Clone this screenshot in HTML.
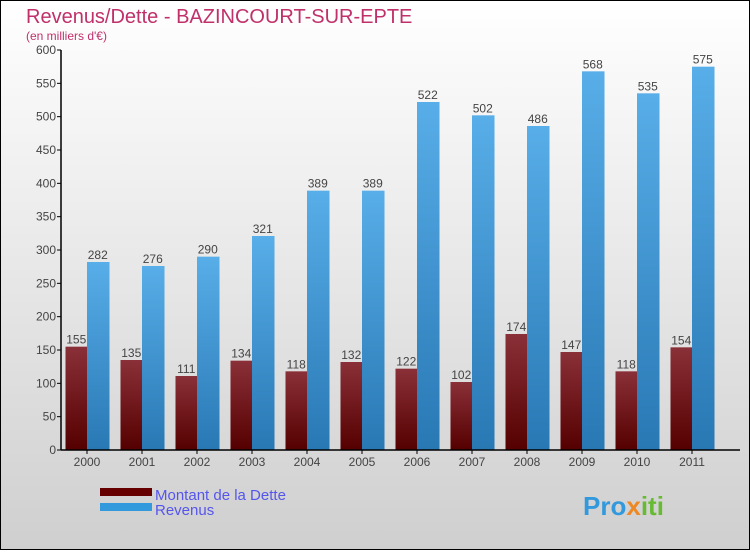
<!DOCTYPE html>
<html><head><meta charset="utf-8"><style>
body{margin:0}
svg text{font-family:"Liberation Sans",sans-serif}
</style></head><body>
<svg id="chart" width="750" height="550" xmlns="http://www.w3.org/2000/svg">
<defs>
<linearGradient id="bg" x1="0" y1="0" x2="0" y2="1"><stop offset="0" stop-color="#ffffff"/><stop offset="1" stop-color="#cfcfcf"/></linearGradient>
<linearGradient id="gd" x1="0" y1="0" x2="0" y2="1"><stop offset="0" stop-color="#8a3038"/><stop offset="1" stop-color="#550000"/></linearGradient>
<linearGradient id="gr" x1="0" y1="0" x2="0" y2="1"><stop offset="0" stop-color="#58aee8"/><stop offset="1" stop-color="#2878b4"/></linearGradient>
</defs>
<rect x="0.5" y="0.5" width="749" height="549" fill="url(#bg)" stroke="#000"/>
<text x="26" y="23" font-size="20" fill="#c0306a">Revenus/Dette - BAZINCOURT-SUR-EPTE</text>
<text x="26" y="40" font-size="12" fill="#c0306a">(en milliers d'€)</text>
<g id="plot"></g>
<rect x="100" y="488" width="52" height="8" fill="#660000"/>
<text x="155" y="500" font-size="15" fill="#5555ee">Montant de la Dette</text>
<rect x="100" y="503" width="52" height="8" fill="#3399dd"/>
<text x="155" y="515" font-size="15" fill="#5555ee">Revenus</text>
<text x="583" y="515" font-size="26" font-weight="bold" fill="#3399dd">Pro<tspan fill="#ee8822">x</tspan><tspan fill="#66bb33">iti</tspan></text>
</svg>
<script>
const years=["2000","2001","2002","2003","2004","2005","2006","2007","2008","2009","2010","2011"];
const dette=[155,135,111,134,118,132,122,102,174,147,118,154];
const revenus=[282,276,290,321,389,389,522,502,486,568,535,575];
const yTicks=[0,50,100,150,200,250,300,350,400,450,500,550,600];
const NS="http://www.w3.org/2000/svg";
const g=document.getElementById('plot');
const y0=450,yTop=50,yMax=600,x0=61,step=55,bw=21.5;
const Y=v=>y0-(v/yMax)*(y0-yTop);
const X=i=>65.5+i*step;
function mk(t,a){const e=document.createElementNS(NS,t);for(const k in a)e.setAttribute(k,a[k]);g.appendChild(e);return e;}
yTicks.forEach(v=>{
  const l=mk('line',{x1:x0-4,x2:x0,y1:Y(v),y2:Y(v),stroke:'#000'});
  
  
  const t=mk('text',{x:x0-5,y:Y(v)+4,'font-size':12,'text-anchor':'end',fill:'#444'});
  t.textContent=v;
  
  
});
years.forEach((yr,i)=>{
  const d=mk('rect',{x:X(i),y:Y(dette[i]),width:bw,height:y0-Y(dette[i]),fill:'url(#gd)'});
  
  
  const r=mk('rect',{x:X(i)+bw,y:Y(revenus[i]),width:bw+1,height:y0-Y(revenus[i]),fill:'url(#gr)'});
  
  
  const dl=mk('text',{x:X(i)+bw/2,y:Y(dette[i])-3,'font-size':12,'text-anchor':'middle',fill:'#444'});
  dl.textContent=dette[i];
  
  
  const rl=mk('text',{x:X(i)+bw*1.5,y:Y(revenus[i])-3,'font-size':12,'text-anchor':'middle',fill:'#444'});
  rl.textContent=revenus[i];
  
  
  const tk=mk('line',{x1:X(i)+bw,x2:X(i)+bw,y1:y0,y2:y0+4,stroke:'#000'});
  
  
  const xl=mk('text',{x:X(i)+bw,y:y0+16,'font-size':12,'text-anchor':'middle',fill:'#444'});
  xl.textContent=yr;
  
  
});
const ya=mk('line',{x1:x0,x2:x0,y1:yTop,y2:y0,stroke:'#000','stroke-width':1.5});


const xa=mk('line',{x1:x0,x2:740,y1:y0,y2:y0,stroke:'#000','stroke-width':1.5});


</script>
</body></html>
